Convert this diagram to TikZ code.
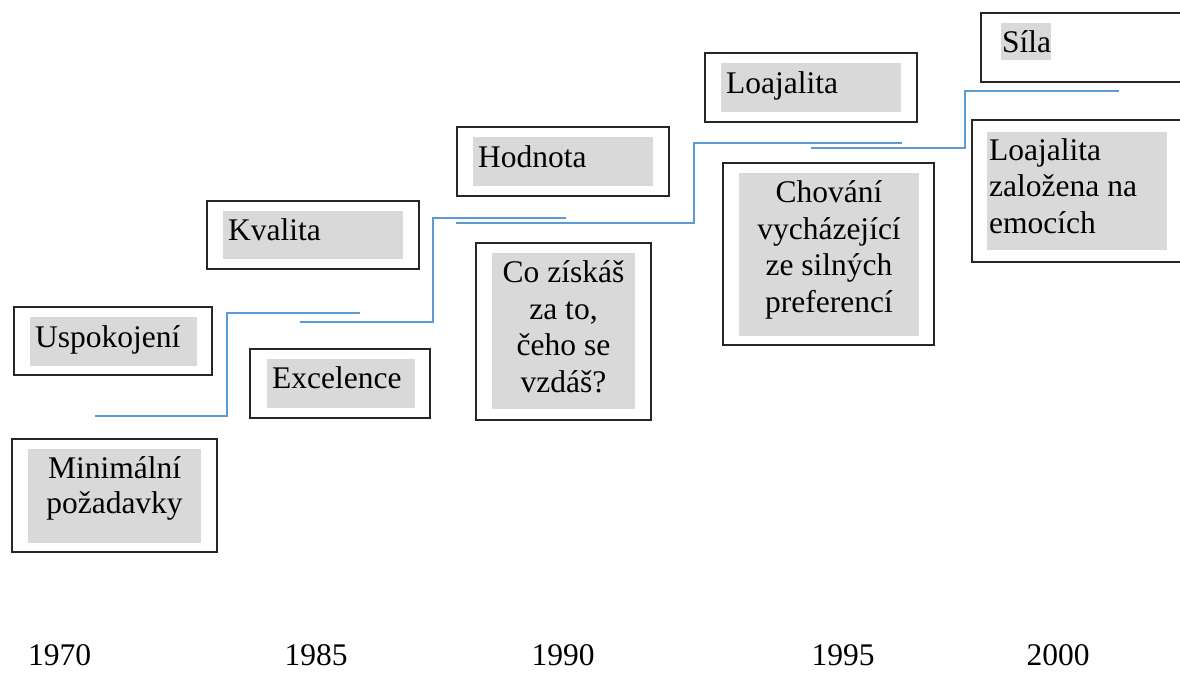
\documentclass[tikz,border=0pt]{standalone}
\usepackage{fontspec}
\setmainfont{Liberation Serif}
\definecolor{boxgrey}{HTML}{D9D9D9}
\definecolor{lineblue}{HTML}{5B9BD5}
\definecolor{edge}{HTML}{262626}
\begin{document}
\begin{tikzpicture}[x=1pt,y=-1pt,
  frame/.style={draw=edge, line width=1.3pt},
  shadebox/.style={fill=boxgrey},
  lbl/.style={inner sep=0pt, font=\fontsize{31.5}{36.5}\selectfont},
  lblc/.style={lbl, align=center, anchor=base},
  lbll/.style={lbl, anchor=base west},
  yearlbl/.style={lbl, anchor=base},
  trend/.style={draw=lineblue, line width=1.3pt}]
\useasboundingbox (0,0) rectangle (1180,673);
\clip (0,0) rectangle (1180,673);

% outer frames
\draw[frame] (14,307) rectangle (212,375);
\draw[frame] (250,349) rectangle (430,418);
\draw[frame] (12,439) rectangle (217,552);
\draw[frame] (207,201) rectangle (419,269);
\draw[frame] (457,127) rectangle (669,196);
\draw[frame] (476,243) rectangle (651,420);
\draw[frame] (723,163) rectangle (934,345);
\draw[frame] (705,53) rectangle (917,122);
\draw[frame] (981,13) rectangle (1195,82);
\draw[frame] (972,120) rectangle (1195,262);

% grey fills
\fill[shadebox] (30,317) rectangle (197,366);
\fill[shadebox] (267,359) rectangle (415,408);
\fill[shadebox] (28,449) rectangle (201,543);
\fill[shadebox] (223,211) rectangle (403,259);
\fill[shadebox] (473,137) rectangle (653,186);
\fill[shadebox] (492,253) rectangle (635,409);
\fill[shadebox] (739,173) rectangle (919,336);
\fill[shadebox] (721,63) rectangle (901,112);
\fill[shadebox] (1001,23) rectangle (1051,60);
\fill[shadebox] (987,132) rectangle (1167,250);

% labels (multi-line nodes: base = last line's baseline)
\node[lbll] (uspo) at (35,347) {Uspokojení};
\node[lbll] (exc) at (272,388) {Excelence};
\node[lblc, font=\fontsize{31.5}{35}\selectfont] (mini) at (114.5,513) {Minimální\\požadavky};
\node[lbll] (kval) at (228,240) {Kvalita};
\node[lbll] (hodn) at (478,167) {Hodnota};
\node[lblc] (coz) at (563.5,392) {Co získáš\\za to,\\čeho se\\vzdáš?};
\node[lblc] (chov) at (829,312) {Chování\\vycházející\\ze silných\\preferencí};
\node[lbll] (loaj) at (726,93) {Loajalita};
\node[lbll] (sila) at (1002,52) {Síla};
\node[lbll, align=left] (emo) at (989,233) {Loajalita\\založena na\\emocích};

% trend lines
\coordinate (a1) at (95,416); \coordinate (a2) at (227,416);
\coordinate (a3) at (227,313); \coordinate (a4) at (360,313);
\coordinate (b1) at (300,322); \coordinate (b2) at (433,322);
\coordinate (b3) at (433,218); \coordinate (b4) at (566,218);
\coordinate (c1) at (456,223); \coordinate (c2) at (694,223);
\coordinate (c3) at (694,143); \coordinate (c4) at (902,143);
\coordinate (d1) at (811,148); \coordinate (d2) at (965,148);
\coordinate (d3) at (965,91); \coordinate (d4) at (1119,91);
\draw[trend] (a1) -- (a2) -- (a3) -- (a4);
\draw[trend] (b1) -- (b2) -- (b3) -- (b4);
\draw[trend] (c1) -- (c2) -- (c3) -- (c4);
\draw[trend] (d1) -- (d2) -- (d3) -- (d4);

% years
\node[yearlbl] (y1) at (59.5,665) {1970};
\node[yearlbl] (y2) at (316,665) {1985};
\node[yearlbl] (y3) at (563,665) {1990};
\node[yearlbl] (y4) at (843,665) {1995};
\node[yearlbl] (y5) at (1058,665) {2000};
\end{tikzpicture}
\end{document}
